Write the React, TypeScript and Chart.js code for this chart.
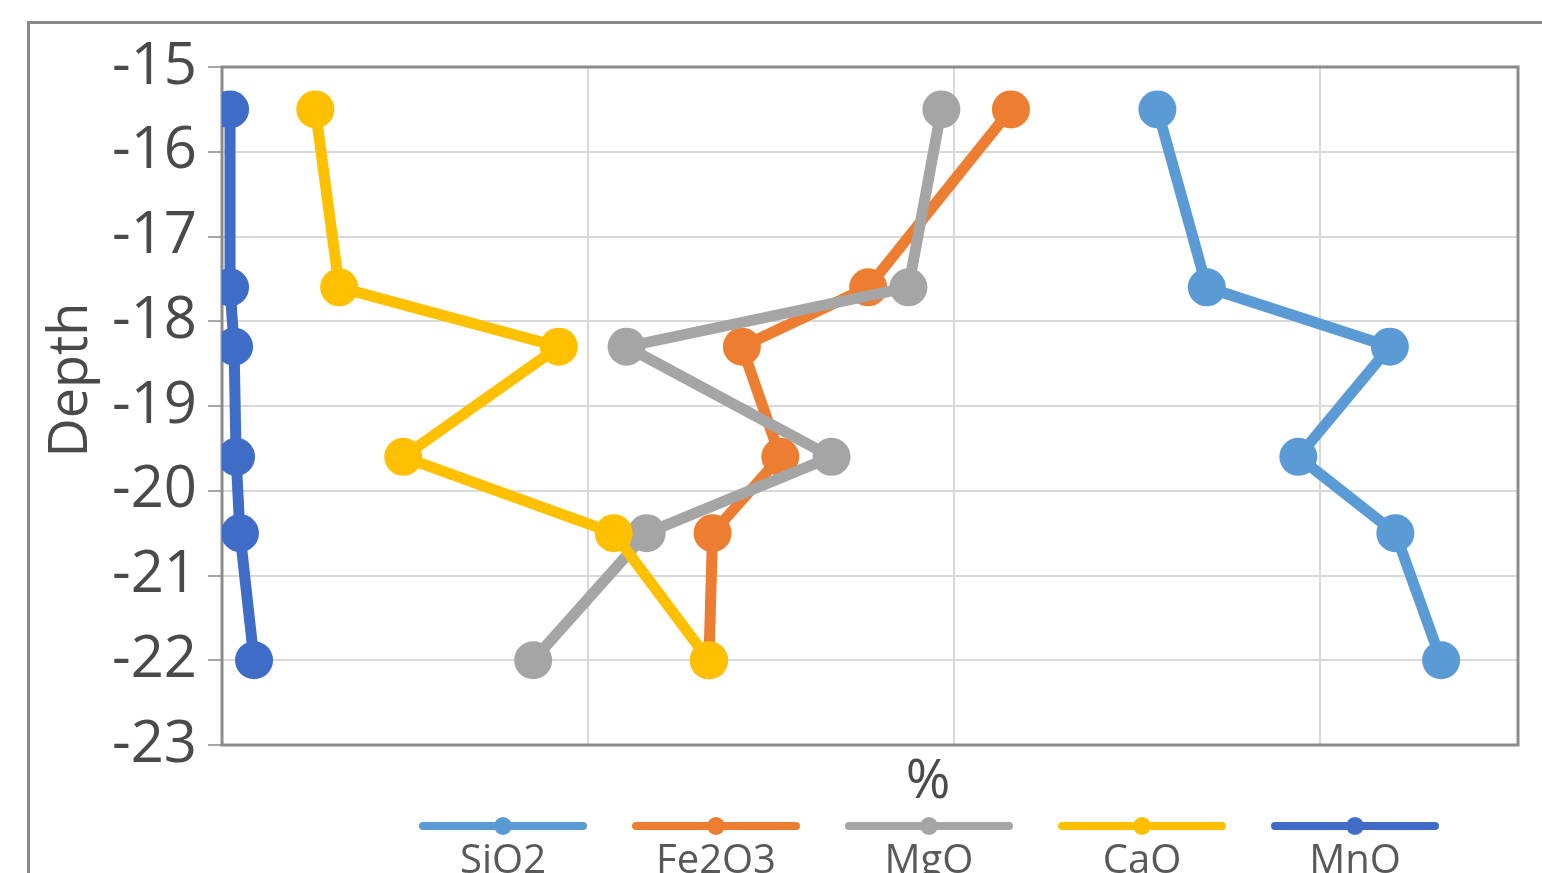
import { useEffect, useRef } from "react";
import { Chart, registerables } from "chart.js";

Chart.register(...registerables);

// Sample depths (m) and oxide contents (%) at each depth
const depths = [-15.5, -17.6, -18.3, -19.6, -20.5, -22];
const sio2 = [51.1, 53.8, 63.8, 58.8, 64.1, 66.6];
const fe2o3 = [43.1, 35.3, 28.4, 30.5, 26.8, 26.6];
const mgo = [39.3, 37.5, 22.1, 33.3, 23.2, 17.0];
const cao = [5.1, 6.4, 18.4, 9.9, 21.4, 26.6];
const mno = [0.44, 0.44, 0.66, 0.77, 0.98, 1.75];

const seriesNames = ["SiO2", "Fe2O3", "MgO", "CaO", "MnO"];
const seriesValues = [sio2, fe2o3, mgo, cao, mno];
const seriesColors = ["#5B9BD5", "#ED7D31", "#A5A5A5", "#FFC000", "#3F6CC6"];

const FONT = "'Open Sans', 'DejaVu Sans', sans-serif";
const TEXT = "#4a4a4a";

const chromePlugin = {
  id: "chrome",
  beforeDraw(chart: any) {
    const { ctx, width, height } = chart;
    ctx.save();
    ctx.fillStyle = "#ffffff";
    ctx.fillRect(0, 0, width, height);
    // outer chart frame (left and top edges)
    ctx.strokeStyle = "#8a8a8a";
    ctx.lineWidth = 3;
    ctx.beginPath();
    ctx.moveTo(28.5, height);
    ctx.lineTo(28.5, 22.5);
    ctx.lineTo(width, 22.5);
    ctx.stroke();
    ctx.restore();
  },
  beforeDatasetsDraw(chart: any) {
    const { ctx, chartArea } = chart;
    ctx.save();
    ctx.strokeStyle = "#8c8c8c";
    ctx.lineWidth = 3;
    ctx.strokeRect(
      chartArea.left,
      chartArea.top,
      chartArea.right - chartArea.left,
      chartArea.bottom - chartArea.top
    );
    ctx.restore();
  },
  afterDraw(chart: any) {
    const { ctx, chartArea } = chart;
    ctx.save();
    ctx.fillStyle = TEXT;
    ctx.textAlign = "center";
    ctx.textBaseline = "middle";

    // y axis title
    ctx.save();
    ctx.translate(72, 380);
    ctx.rotate(-Math.PI / 2);
    ctx.font = `54px ${FONT}`;
    ctx.fillText("Depth", 0, 0);
    ctx.restore();

    // x axis title
    ctx.font = `54px ${FONT}`;
    ctx.fillText("%", 928, chartArea.bottom + 38);

    // legend: line sample with marker, name underneath
    const y = 826;
    seriesNames.forEach((name, i) => {
      const cx = 503 + i * 213;
      ctx.strokeStyle = seriesColors[i];
      ctx.lineWidth = 8;
      ctx.lineCap = "round";
      ctx.beginPath();
      ctx.moveTo(cx - 80, y);
      ctx.lineTo(cx + 80, y);
      ctx.stroke();
      ctx.fillStyle = seriesColors[i];
      ctx.beginPath();
      ctx.arc(cx, y, 9, 0, Math.PI * 2);
      ctx.fill();
      ctx.fillStyle = "#595959";
      ctx.font = `40px ${FONT}`;
      ctx.fillText(name, cx, y + 36);
    });
    ctx.restore();
  },
};

export default function App() {
  const canvasRef = useRef<HTMLCanvasElement | null>(null);

  useEffect(() => {
    if (!canvasRef.current) return;
    const datasets = seriesNames.map((name, i) => ({
      label: name,
      data: depths.map((d, k) => ({ x: seriesValues[i][k], y: d })),
      showLine: true,
      borderColor: seriesColors[i],
      backgroundColor: seriesColors[i],
      borderWidth: 11,
      pointRadius: 19,
      pointBorderWidth: 0,
      pointBackgroundColor: seriesColors[i],
      pointBorderColor: seriesColors[i],
      order: seriesNames.length - i,
    }));

    const chart = new Chart(canvasRef.current, {
      type: "scatter",
      data: { datasets },
      plugins: [chromePlugin],
      options: {
        animation: false,
        responsive: false,
        maintainAspectRatio: false,
        layout: { padding: { top: 67, right: 24, left: 0, bottom: 0 } },
        plugins: {
          legend: { display: false },
          tooltip: { enabled: false },
        },
        scales: {
          x: {
            type: "linear",
            min: 0,
            max: 70.8,
            ticks: { display: false, stepSize: 20 },
            grid: { color: "#d9d9d9", lineWidth: 2, drawTicks: false },
            border: { display: false },
            afterFit(scale: any) {
              scale.height = 128;
            },
          },
          y: {
            type: "linear",
            min: -23,
            max: -15,
            ticks: {
              stepSize: 1,
              padding: 11,
              color: TEXT,
              font: { family: FONT, size: 58 },
            },
            grid: {
              color: "#d9d9d9",
              lineWidth: 2,
              tickLength: 14,
              tickColor: "#a6a6a6",
            },
            border: { display: false },
            afterFit(scale: any) {
              scale.width = 222;
            },
          },
        },
      },
    });
    return () => chart.destroy();
  }, []);

  return (
    <div style={{ position: "fixed", left: 0, top: 0, width: 1542, height: 873 }}>
      <canvas ref={canvasRef} width={1542} height={873} />
    </div>
  );
}
